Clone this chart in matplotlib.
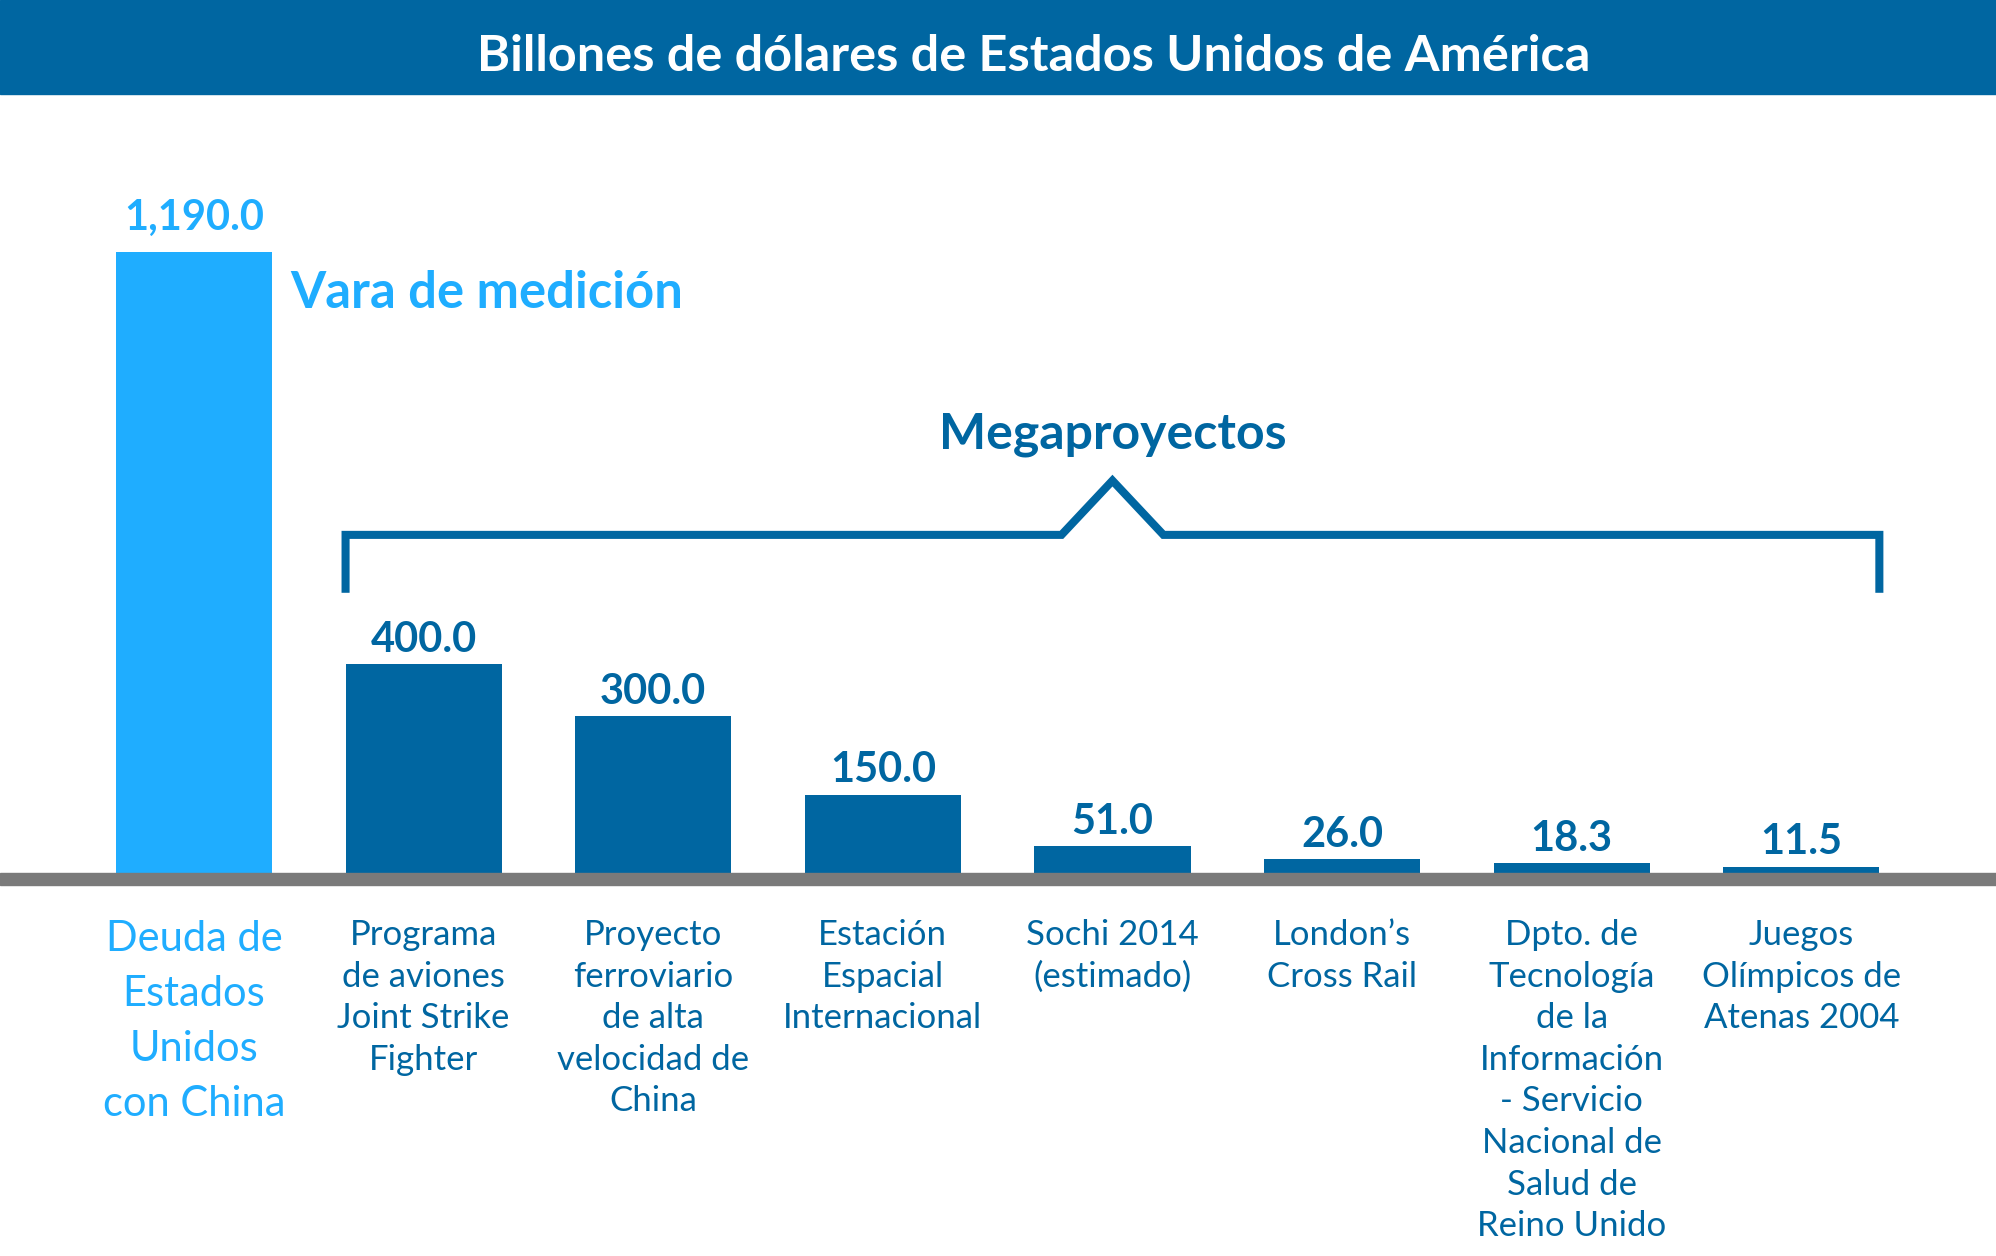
import numpy as np
import matplotlib.pyplot as plt
from matplotlib.patches import Rectangle

plt.rcParams['font.family'] = ['Lato', 'DejaVu Sans']

# datos
categorias = [
    'Deuda de\nEstados\nUnidos\ncon China',
    'Programa\nde aviones\nJoint Strike\nFighter',
    'Proyecto\nferroviario\nde alta\nvelocidad de\nChina',
    'Estación\nEspacial\nInternacional',
    'Sochi 2014\n(estimado)',
    'London’s\nCross Rail',
    'Dpto. de\nTecnología\nde la\nInformación\n- Servicio\nNacional de\nSalud de\nReino Unido',
    'Juegos\nOlímpicos de\nAtenas 2004',
]
valores = [1190.0, 400.0, 300.0, 150.0, 51.0, 26.0, 18.3, 11.5]

titulo = 'Billones de dólares de Estados Unidos de América'
claro = '#1FADFF'
oscuro = '#0066A1'
gris = '#7A7A7A'

W, H = 1996, 1256
fig = plt.figure(figsize=(W / 100, H / 100), dpi=100)

# franja del titulo
fig.patches.append(Rectangle((0, 1 - 94 / H), 1, 94 / H, transform=fig.transFigure,
                             color=oscuro, zorder=0))
fig.text(1034 / W, 1 - 71 / H, titulo, color='white', fontsize=36.3,
         fontweight='bold', ha='center', va='baseline')

# linea base gris
fig.patches.append(Rectangle((0, 1 - 885 / H), 1, 12 / H, transform=fig.transFigure,
                             color=gris, zorder=0))

ax = fig.add_axes([0, (H - 873) / H, 1, (873 - 94) / H])
ax.set_xlim(-0.845, 7.848)
ax.set_ylim(0, 779 / 0.5218)
ax.axis('off')

x = np.arange(len(valores))
ancho = 0.68
colores = [claro] + [oscuro] * (len(valores) - 1)
ax.bar(x, valores, width=ancho, color=colores)

for i, v in enumerate(valores):
    c = claro if i == 0 else oscuro
    off = 16 if i == 0 else 9
    ax.annotate(f'{v:,.1f}', (i, v), xytext=(0, off), textcoords='offset points',
                ha='center', va='baseline', fontsize=30, fontweight='bold', color=c)

trans = ax.get_xaxis_transform()
for i, cat in enumerate(categorias):
    if i == 0:
        ax.text(i, (873 - 920) / 779, cat, transform=trans, ha='center', va='top',
                fontsize=30, color=claro, linespacing=1.55, clip_on=False)
    else:
        ax.text(i, (873 - 919) / 779, cat, transform=trans, ha='center', va='top',
                fontsize=25, color=oscuro, linespacing=1.37, clip_on=False)

ax.text(0.418, 1083, 'Vara de medición', ha='left', va='baseline', fontsize=36.5,
        fontweight='bold', color=claro)

# llave de megaproyectos
izq = 1 - ancho / 2
der = len(valores) - 1 + ancho / 2
med = (izq + der) / 2
y_h, y_b, y_p = 648, 537, 752
ax.plot([izq, izq, med - 0.222, med, med + 0.222, der, der],
        [y_b, y_h, y_h, y_p, y_h, y_h, y_b],
        color=oscuro, lw=5.8, solid_joinstyle='miter', solid_capstyle='butt')
ax.text(med, 814, 'Megaproyectos', ha='center', va='baseline', fontsize=36,
        fontweight='bold', color=oscuro)

fig.savefig('out.png', dpi=100)
